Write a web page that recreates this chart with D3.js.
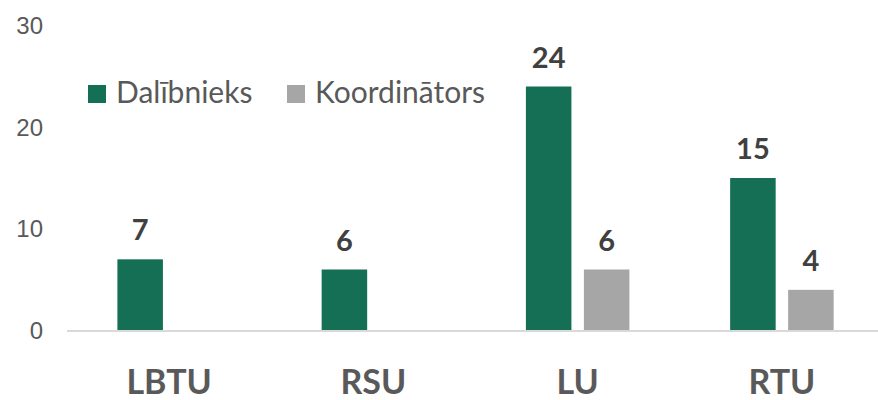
<!DOCTYPE html>
<html lang="en">
<head>
<meta charset="utf-8">
<title>Dalībnieki pa augstskolām</title>
<script src="https://cdn.jsdelivr.net/npm/d3@7"></script>
<style>
  body { margin: 0; background: #fff; }
  svg { display: block; }
  .tick-label { font-family: "Liberation Sans", Arial, sans-serif; font-size: 24px; fill: #595959; }
  .cat-label { font-family: Lato, "Open Sans", sans-serif; font-weight: 700; font-size: 34px; fill: #595959; }
  .val-label { font-family: Lato, "Open Sans", sans-serif; font-weight: 700; font-size: 29px; fill: #404040; }
  .legend-text { font-family: Lato, "Open Sans", sans-serif; font-size: 30px; fill: #595959; }
</style>
</head>
<body>
<div id="chart"></div>
<script>
  // Data
  const categories = ["LBTU", "RSU", "LU", "RTU"];
  const seriesNames = ["Dalībnieks", "Koordinātors"];
  const dalibnieks = [7, 6, 24, 15];
  const koordinators = [null, null, 6, 4];
  const yTicks = [0, 10, 20, 30];
  const colors = ["#146F55", "#A6A6A6"];

  const width = 878, height = 400;
  const svg = d3.select("#chart").append("svg")
      .attr("width", width)
      .attr("height", height);

  // Scales
  const x = d3.scaleBand()
      .domain(categories)
      .range([67, 884])
      .paddingInner(0)
      .paddingOuter(0);

  const inner = d3.scaleBand()
      .domain(seriesNames)
      .range([50.4, 50.4 + 103.5])
      .paddingInner(0.215);

  const y = d3.scaleLinear()
      .domain([0, 30])
      .range([330.5, 25.5]);

  // Y tick labels (no gridlines)
  svg.append("g").selectAll("text")
    .data(yTicks)
    .join("text")
      .attr("class", "tick-label")
      .attr("x", 43)
      .attr("y", d => y(d))
      .attr("dy", "0.35em")
      .attr("text-anchor", "end")
      .text(d => d);

  // Bars
  const rows = categories.map((c, i) => ({ cat: c, values: [dalibnieks[i], koordinators[i]] }));

  const groups = svg.append("g").selectAll("g")
    .data(rows)
    .join("g")
      .attr("transform", d => `translate(${x(d.cat)},0)`);

  const items = groups.selectAll("g")
    .data(d => d.values.map((v, j) => ({ key: seriesNames[j], value: v, j })).filter(e => e.value != null))
    .join("g");

  items.append("rect")
      .attr("x", d => inner(d.key))
      .attr("y", d => y(d.value))
      .attr("width", inner.bandwidth())
      .attr("height", d => y(0) - y(d.value))
      .attr("fill", d => colors[d.j]);

  items.append("text")
      .attr("class", "val-label")
      .attr("x", d => inner(d.key) + inner.bandwidth() / 2)
      .attr("y", d => y(d.value) - 19)
      .attr("text-anchor", "middle")
      .text(d => d.value);

  // Baseline
  svg.append("line")
      .attr("x1", 67).attr("x2", width)
      .attr("y1", y(0) + 0.5).attr("y2", y(0) + 0.5)
      .attr("stroke", "#D9D9D9")
      .attr("stroke-width", 2);

  // Category labels
  svg.append("g").selectAll("text")
    .data(categories)
    .join("text")
      .attr("class", "cat-label")
      .attr("x", d => x(d) + x.bandwidth() / 2)
      .attr("y", 394)
      .attr("text-anchor", "middle")
      .text(d => d);

  // Legend
  const legendX = [88, 287];
  const legend = svg.append("g").selectAll("g")
    .data(seriesNames)
    .join("g")
      .attr("transform", (d, i) => `translate(${legendX[i]},85)`);

  legend.append("rect")
      .attr("width", 18).attr("height", 18)
      .attr("fill", (d, i) => colors[i]);

  legend.append("text")
      .attr("class", "legend-text")
      .attr("x", 28)
      .attr("y", 18)
      .text(d => d);
</script>
</body>
</html>
